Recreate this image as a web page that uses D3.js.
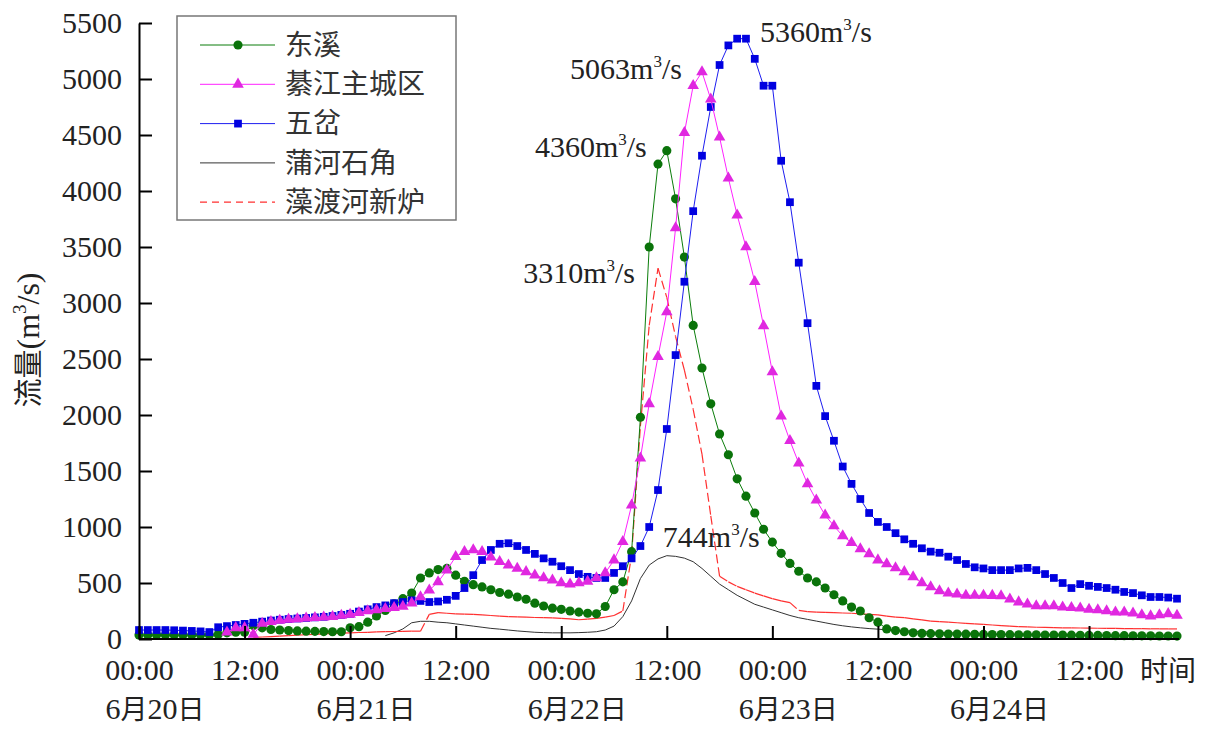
<!doctype html>
<meta charset="utf-8">
<head>
<script src="https://d3js.org/d3.v7.min.js"></script>
<style>
  body { margin: 0; background: #fff; }
</style>
</head>
<body>
<svg width="1205" height="730" font-family="Liberation Serif, Noto Sans CJK SC, serif"></svg>
<script>
    // hourly flow, hour 0 = 6/20 00:00
    let hours = d3.range(0, 119);

    let dongxi = [
        35,35,35,35,35,35,35,35,35,40,
        55,60,60,120,100,85,80,75,72,70,
        68,66,65,65,100,110,150,205,255,315,
        360,410,545,590,620,630,570,515,485,465,
        440,415,400,375,355,320,295,275,265,250,
        240,230,225,290,440,510,780,1980,3500,4240,
        4360,3930,3410,2800,2420,2100,1830,1645,1430,1275,
        1125,980,865,765,675,605,545,510,455,395,
        340,285,250,190,150,90,75,65,55,50,
        48,46,45,44,43,42,41,40,40,39,
        38,38,37,36,35,35,34,33,32,32,
        31,30,30,29,28,28,27,27,26
    ];

    let qijiang = [
        null,null,null,null,null,null,null,null,null,null,
        60,100,100,40,140,155,165,175,180,185,
        190,195,200,210,220,235,250,260,270,280,
        290,320,375,435,510,615,735,780,795,780,
        730,690,660,630,600,570,545,525,500,490,
        500,515,545,590,705,870,1195,1615,2100,2520,
        2920,3670,4520,4940,5063,4820,4480,4115,3785,3500,
        3190,2795,2385,1990,1770,1570,1385,1240,1105,1010,
        920,860,805,760,705,670,635,600,555,500,
        465,430,410,400,390,390,390,388,385,355,
        330,310,295,295,295,285,280,275,265,260,
        250,240,240,230,215,205,215,225,210
    ];

    let wucha = [
        80,80,80,80,78,75,72,68,62,105,
        115,125,135,145,155,165,172,178,183,188,
        193,198,205,215,225,245,265,285,300,320,
        330,345,340,330,335,350,385,455,570,705,
        795,850,855,830,795,760,720,690,650,615,
        580,555,545,545,590,650,720,830,1000,1330,
        1875,2535,3190,3820,4315,4750,5125,5300,5360,5360,
        5180,4940,4940,4270,3900,3360,2820,2260,1990,1770,
        1540,1385,1250,1125,1045,1000,945,890,850,810,
        780,770,735,705,670,640,630,615,615,615,
        630,635,615,580,545,500,455,490,475,465,
        455,440,420,410,390,375,375,370,360
    ];

    let puhe = [
        null,null,null,null,null,null,null,null,null,null,
        null,null,null,null,null,null,null,null,null,null,
        null,null,null,null,null,null,null,null,30,55,
        90,145,158,158,150,145,135,125,115,105,
        95,88,80,72,66,60,57,55,55,55,
        57,60,65,80,115,200,340,540,660,715,
        744,738,722,690,630,560,490,440,390,350,
        310,285,260,235,210,190,175,160,145,130,
        118,108,100,93,88,82,78,74,70,66,
        62,59,56,53,51,49,47,45,44,43,
        42,41,40,39,38,37,36,35,34,33,
        33,32,32,31,31,30,30,30,29
    ];

    let zaodu = [
        null,null,null,null,null,null,null,null,null,null,
        null,null,null,15,18,22,26,30,34,38,
        42,46,50,53,55,58,60,63,65,67,
        68,70,70,220,235,230,225,222,220,215,
        210,205,200,198,195,192,190,188,185,180,
        172,178,185,195,210,250,750,1900,2800,3310,
        3050,2700,2400,2050,1650,1100,560,510,470,440,
        410,385,360,340,325,255,245,240,238,235,
        232,230,225,220,215,205,195,190,180,170,
        160,155,150,145,140,135,130,125,120,115,
        110,108,105,103,101,100,99,98,97,96,
        95,94,93,92,92,91,91,90,90
    ];

    let seriesNames = ["东溪", "綦江主城区", "五岔", "蒲河石角", "藻渡河新炉"];

    let xTicks = [0, 12, 24, 36, 48, 60, 72, 84, 96, 108];
    let xTickLabels = ["00:00", "12:00", "00:00", "12:00", "00:00",
                       "12:00", "00:00", "12:00", "00:00", "12:00"];
    let dateTicks = [0, 24, 48, 72, 96];
    let dateDays = ["20", "21", "22", "23", "24"];
    let yTicks = d3.range(0, 5501, 500);

    // peak labels: series index, hour of peak, label number
    let peakSeries = [2, 1, 0, 4, 3];
    let peakHours = [69, 64, 60, 59, 60];
    let peakText = ["5360", "5063", "4360", "3310", "744"];

    //
    // layout
    //
    let svg = d3.select("svg");
    let latin = "Liberation Serif";
    let cjk = "Noto Sans CJK SC";
    let x = d3.scaleLinear().domain([0, 118]).range([139, 1177]);
    let y = d3.scaleLinear().domain([0, 5500]).range([639, 23]);

    let allSeries = [dongxi, qijiang, wucha, puhe, zaodu];
    let colors = ["#0b7d0b", "#ff22ff", "#1e1ef0", "#333333", "#ff3030"];

    let line = d3.line()
        .defined((d) => d != null)
        .x((d, i) => x(hours[i]))
        .y((d) => y(d));

    // gray line
    svg.append("path")
        .attr("d", line(puhe))
        .attr("fill", "none")
        .attr("stroke", colors[3])
        .attr("stroke-width", 1);

    // dashed red: dash pattern restarts on every segment
    let redSegs = [];
    for (let i = 0; i < zaodu.length - 1; i++) {
        if (zaodu[i] != null && zaodu[i + 1] != null) redSegs.push(i);
    }
    svg.selectAll(".seg").data(redSegs).enter().append("line")
        .attr("class", "seg")
        .attr("x1", (i) => x(hours[i]))
        .attr("y1", (i) => y(zaodu[i]))
        .attr("x2", (i) => x(hours[i + 1]))
        .attr("y2", (i) => y(zaodu[i + 1]))
        .attr("stroke", colors[4])
        .attr("stroke-width", 1.2)
        .attr("stroke-dasharray", "9,4");

    let symbols = [d3.symbolCircle, d3.symbolTriangle, d3.symbolSquare];
    let symSize = [66, 58, 60];
    let markFill = ["#0a730a", "#e028e0", "#0000e0"];

    function drawMarked(k) {
        let data = allSeries[k];
        svg.append("path")
            .attr("d", line(data))
            .attr("fill", "none")
            .attr("stroke", colors[k])
            .attr("stroke-width", 1);
        let pts = hours.filter((h, i) => data[i] != null);
        svg.append("g").selectAll("path").data(pts).enter().append("path")
            .attr("transform", (h) => "translate(" + x(h) + "," + y(data[h]) + ")")
            .attr("d", d3.symbol().type(symbols[k]).size(symSize[k]))
            .attr("fill", markFill[k]);
    }
    drawMarked(0);
    drawMarked(2);
    drawMarked(1);

    //
    // axes
    //
    let xAxis = d3.axisBottom(x)
        .tickValues(xTicks)
        .tickFormat((d, i) => xTickLabels[i])
        .tickSize(-13)
        .tickSizeOuter(0)
        .tickPadding(20);
    let gx = svg.append("g").attr("transform", "translate(0," + y(0) + ")").call(xAxis);

    let yAxis = d3.axisLeft(y)
        .tickValues(yTicks)
        .tickFormat(d3.format("d"))
        .tickSize(-13)
        .tickSizeOuter(0)
        .tickPadding(17);
    let gy = svg.append("g").attr("transform", "translate(" + x(0) + ",0)").call(yAxis);

    [gx, gy].forEach((g) => {
        g.attr("font-family", latin).attr("font-size", 30);
        g.selectAll("path, line").attr("stroke", "#000").attr("stroke-width", 2);
        g.selectAll("text")
            .attr("font-family", latin)
            .attr("fill", "#222");
    });
    gx.select(".domain").attr("d", "M" + x(0) + ",0H1179");

    svg.append("text")
        .attr("x", 1140).attr("y", 681)
        .attr("font-family", cjk)
        .attr("font-size", 28)
        .attr("fill", "#222")
        .text("时间");

    // date labels: digits in serif, CJK glyphs from Noto
    let dl = svg.selectAll(".date").data(dateTicks).enter().append("text")
        .attr("class", "date")
        .attr("x", (d) => x(d) + 16)
        .attr("y", 719)
        .attr("text-anchor", "middle")
        .attr("font-size", 30)
        .attr("fill", "#222");
    dl.append("tspan").attr("font-family", latin).text("6");
    dl.append("tspan").attr("font-family", cjk).attr("font-size", 27).text("月");
    dl.append("tspan").attr("font-family", latin).text((d, i) => dateDays[i]);
    dl.append("tspan").attr("font-family", cjk).attr("font-size", 27).text("日");

    // y title
    let yt = svg.append("text")
        .attr("transform", "translate(39,340) rotate(-90)")
        .attr("text-anchor", "middle")
        .attr("font-size", 32)
        .attr("fill", "#222");
    yt.append("tspan").attr("font-family", cjk).attr("font-size", 29).text("流量");
    yt.append("tspan").attr("font-family", latin).text("(m");
    yt.append("tspan").attr("font-family", latin).attr("dy", -13).attr("font-size", 19).text("3");
    yt.append("tspan").attr("font-family", latin).attr("dy", 13).text("/s)");

    //
    // peak labels
    //
    let labelDx = [14, -20, -20, -23, -4];
    let labelDy = [3, 7, 6, 15, -9];
    let labelAnchor = ["start", "end", "end", "end", "start"];
    peakText.forEach((t, i) => {
        let v = allSeries[peakSeries[i]][peakHours[i]];
        let tx = svg.append("text")
            .attr("x", x(peakHours[i]) + labelDx[i])
            .attr("y", y(v) + labelDy[i])
            .attr("text-anchor", labelAnchor[i])
            .attr("font-family", latin)
            .attr("font-size", 30)
            .attr("fill", "#222");
        tx.append("tspan").text(t + "m");
        tx.append("tspan").attr("dy", -12).attr("font-size", 17).text("3");
        tx.append("tspan").attr("dy", 12).text("/s");
    });

    //
    // legend
    //
    let lg = svg.append("g");
    lg.append("rect")
        .attr("x", 177).attr("y", 16).attr("width", 279).attr("height", 204)
        .attr("fill", "#fff").attr("stroke", "#777").attr("stroke-width", 1.5);
    let item = lg.selectAll(".item").data(seriesNames).enter().append("g")
        .attr("class", "item")
        .attr("transform", (d, i) => "translate(0," + (45 + i * 39.3) + ")");
    item.append("line")
        .attr("x1", 200).attr("x2", 275)
        .attr("stroke", (d, i) => colors[i])
        .attr("stroke-width", (d, i) => i == 4 ? 1.2 : 1)
        .attr("stroke-dasharray", (d, i) => i == 4 ? "7,5" : null);
    item.filter((d, i) => i < 3).append("path")
        .attr("transform", "translate(238,0)")
        .attr("d", (d, i) => d3.symbol().type(symbols[i]).size(symSize[i])())
        .attr("fill", (d, i) => markFill[i]);
    item.append("text")
        .attr("x", 285).attr("y", 0).attr("dy", "0.35em")
        .attr("font-family", cjk)
        .attr("font-size", 28)
        .attr("fill", "#333")
        .text((d) => d);
</script>
</body>
